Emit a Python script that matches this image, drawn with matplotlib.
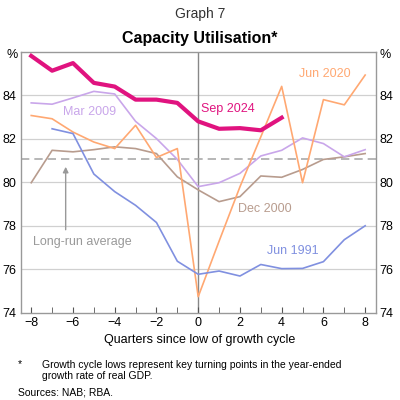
import matplotlib
matplotlib.use("Agg")
import matplotlib.pyplot as plt

plt.rcParams['font.family'] = ['Liberation Sans', 'DejaVu Sans']

quarters = list(range(-8, 9))

sep_2024 = [85.82, 85.14, 85.49, 84.58, 84.41, 83.81, 83.81, 83.66, 82.81,
            82.47, 82.5, 82.4, 82.98]
mar_2009 = [83.66, 83.6, 83.89, 84.19, 84.07, 82.81, 82.02, 81.06, 79.81,
            79.99, 80.42, 81.22, 81.48, 82.05, 81.79, 81.18, 81.51]
dec_2000 = [79.99, 81.48, 81.41, 81.51, 81.64, 81.56, 81.33, 80.26, 79.66,
            79.12, 79.35, 80.30, 80.24, 80.6, 81.06, 81.18, 81.33]
jun_2020 = [83.08, 82.93, 82.32, 81.86, 81.56, 82.63, 81.15, 81.56, 74.75,
            77.3, 79.8, 82.1, 84.42, 79.99, 83.81, 83.57, 84.94]
jun_1991 = [82.47, 82.25, 80.39, 79.58, 78.95, 78.16, 76.38, 75.78,
            75.93, 75.70, 76.23, 76.04, 76.05, 76.36, 77.37, 78.01]
long_run_avg = 81.1

fig = plt.figure(figsize=(4, 4), dpi=100)
ax = fig.add_axes([0.052, 0.2175, 0.887, 0.6525])

grid_c = '#d0d0d0'
for v in [76, 78, 80, 82, 84]:
    ax.axhline(v, color=grid_c, lw=0.9, zorder=0)
ax.axvline(0, color='#888888', lw=1.0, zorder=1)
ax.axhline(long_run_avg, color='#aaaaaa', lw=1.2, ls=(0, (5, 3)), zorder=1)

ax.plot(quarters, dec_2000, color='#b89c8e', lw=1.2, zorder=2)
ax.plot(quarters, mar_2009, color='#c9a6ea', lw=1.2, zorder=2)
ax.plot(quarters, jun_2020, color='#ffa872', lw=1.2, zorder=2)
ax.plot(quarters[1:], jun_1991, color='#8090e0', lw=1.2, zorder=2)
ax.plot(quarters[:13], sep_2024, color='#e0137f', lw=3.0, zorder=3)

lab = dict(fontsize=9, ha='center', va='center')
ax.text(-5.2, 83.26, 'Mar 2009', color='#c9a6ea', **lab)
ax.text(1.43, 83.4, 'Sep 2024', color='#e0137f', **lab)
ax.text(6.05, 85.0, 'Jun 2020', color='#ffa872', **lab)
ax.text(3.19, 78.79, 'Dec 2000', color='#b89c8e', **lab)
ax.text(4.55, 76.87, 'Jun 1991', color='#8090e0', **lab)
ax.text(-5.55, 77.28, 'Long-run average', color='#999999', **lab)
ax.annotate('', xy=(-6.35, 80.85), xytext=(-6.35, 77.7),
            arrowprops=dict(arrowstyle='-|>', color='#999999', lw=1.0,
                            mutation_scale=8))

ax.set_xlim(-8.5, 8.5)
ax.set_ylim(74, 86)
ax.set_xticks(range(-8, 9, 2))
ax.set_xticks(range(-8, 9), minor=True)
ax.set_yticks([74, 76, 78, 80, 82, 84])
ax.tick_params(axis='x', which='both', direction='in', length=4, color='#555555',
               labelsize=9, pad=3)
ax.tick_params(axis='y', length=0, labelsize=9, labelright=True, right=False, pad=3)
for s in ax.spines.values():
    s.set_color('#999999')
    s.set_linewidth(1.0)

fig.text(0.03, 0.855, '%', fontsize=9, ha='center')
fig.text(0.962, 0.855, '%', fontsize=9, ha='center')

fig.text(0.5, 0.955, 'Graph 7', fontsize=10, ha='center', color='#333333')
fig.text(0.5, 0.892, 'Capacity Utilisation*', fontsize=11.5, ha='center',
         fontweight='bold')
fig.text(0.5, 0.142, 'Quarters since low of growth cycle', fontsize=9, ha='center')
fig.text(0.045, 0.083, '*', fontsize=7.5)
fig.text(0.105, 0.052, 'Growth cycle lows represent key turning points in the year-ended\n'
         'growth rate of real GDP.', fontsize=7.5, linespacing=1.1)
fig.text(0.045, 0.012, 'Sources: NAB; RBA.', fontsize=7.5)

fig.savefig('out.png', dpi=100)
